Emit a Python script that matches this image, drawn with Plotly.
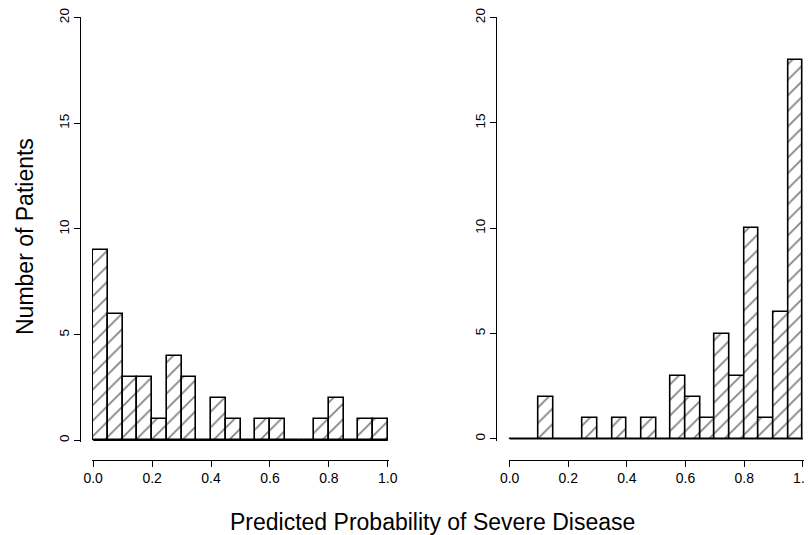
import numpy as np
import plotly.graph_objects as go

# ---- data ----
BIN_WIDTH = 0.05
bin_starts = [0.00, 0.05, 0.10, 0.15, 0.20, 0.25, 0.30, 0.35, 0.40, 0.45,
              0.50, 0.55, 0.60, 0.65, 0.70, 0.75, 0.80, 0.85, 0.90, 0.95]
left_counts = [9, 6, 3, 3, 1, 4, 3, 0, 2, 1,
               0, 1, 1, 0, 0, 1, 2, 0, 1, 1]
right_counts = [0, 0, 2, 0, 0, 1, 0, 1, 0, 1,
                0, 3, 2, 1, 5, 3, 10, 1, 6, 18]
x_tickvals = [0.0, 0.2, 0.4, 0.6, 0.8, 1.0]
x_ticktext = ["0.0", "0.2", "0.4", "0.6", "0.8", "1.0"]
y_tickvals = [0, 5, 10, 15, 20]
y_ticktext = ["0", "5", "10", "15", "20"]
y_title = "Number of Patients"
x_title = "Predicted Probability of Severe Disease"

# page body has an 8px margin; size the figure so it ends at the window edge
OFF = 8
W, H = 812 - OFF, 535 - OFF
FONT = "Liberation Sans, Arial, sans-serif"

centers = [s + BIN_WIDTH / 2 for s in bin_starts]
edges_lo, edges_hi = bin_starts[0], bin_starts[-1] + BIN_WIDTH


def bar_trace(counts, xa, ya):
    return go.Bar(
        x=centers, y=counts, width=BIN_WIDTH,
        xaxis=xa, yaxis=ya,
        marker=dict(
            color="white",
            line=dict(color="black", width=1.6),
            pattern=dict(shape="/", fgcolor="black", bgcolor="white",
                         size=11, solidity=0.15),
        ),
        showlegend=False, hoverinfo="x+y",
    )


def base_trace(xa, ya):
    return go.Scatter(x=[edges_lo, edges_hi], y=[0, 0], mode="lines",
                      line=dict(color="black", width=1.5),
                      xaxis=xa, yaxis=ya, showlegend=False, hoverinfo="skip")


fig = go.Figure()
fig.add_trace(base_trace("x", "y"))
fig.add_trace(bar_trace(left_counts, "x", "y"))
fig.add_trace(base_trace("x2", "y2"))
fig.add_trace(bar_trace(right_counts, "x2", "y2"))


def px_x(p):
    return (p - OFF) / W


def px_y(p):
    return 1 - (p - OFF) / H


xcommon = dict(range=[-0.004, 1.004], tickvals=x_tickvals, ticktext=x_ticktext,
               ticks="outside", ticklen=6, tickwidth=1, tickcolor="black",
               showline=True, linecolor="black", linewidth=1,
               showgrid=False, zeroline=False, anchor="free",
               tickfont=dict(family=FONT, size=14, color="black"),
               ticklabeloverflow="allow",
               automargin=False, fixedrange=True)
ycommon = dict(range=[-0.08, 20.03], tickvals=y_tickvals, ticktext=y_ticktext,
               ticks="outside", ticklen=6, tickwidth=1, tickcolor="black",
               showline=True, linecolor="black", linewidth=1,
               showgrid=False, zeroline=False, anchor="free", tickangle=-90,
               tickfont=dict(family=FONT, size=13.5, color="black"),
               ticklabeloverflow="allow",
               automargin=False, fixedrange=True)

TOP = 17
fig.update_layout(
    width=W, height=H,
    margin=dict(l=0, r=0, t=0, b=0),
    paper_bgcolor="white", plot_bgcolor="white",
    bargap=0,
    font=dict(family=FONT, color="black"),
    xaxis=dict(xcommon, domain=[px_x(92), px_x(389)], position=px_y(459.5)),
    yaxis=dict(ycommon, domain=[px_y(442), px_y(TOP)], position=px_x(80)),
    xaxis2=dict(xcommon, domain=[px_x(508.5), px_x(804)], position=px_y(459.5)),
    yaxis2=dict(ycommon, domain=[px_y(440.5), px_y(TOP)], position=px_x(496)),
    annotations=[
        dict(text=y_title, xref="paper", yref="paper", x=px_x(25), y=px_y(237),
             textangle=-90, showarrow=False, xanchor="center", yanchor="middle",
             font=dict(family=FONT, size=23, color="black")),
        dict(text=x_title, xref="paper", yref="paper", x=px_x(433), y=px_y(522),
             showarrow=False, xanchor="center", yanchor="middle",
             font=dict(family=FONT, size=23, color="black")),
    ],
)

fig.write_html("out.html")
